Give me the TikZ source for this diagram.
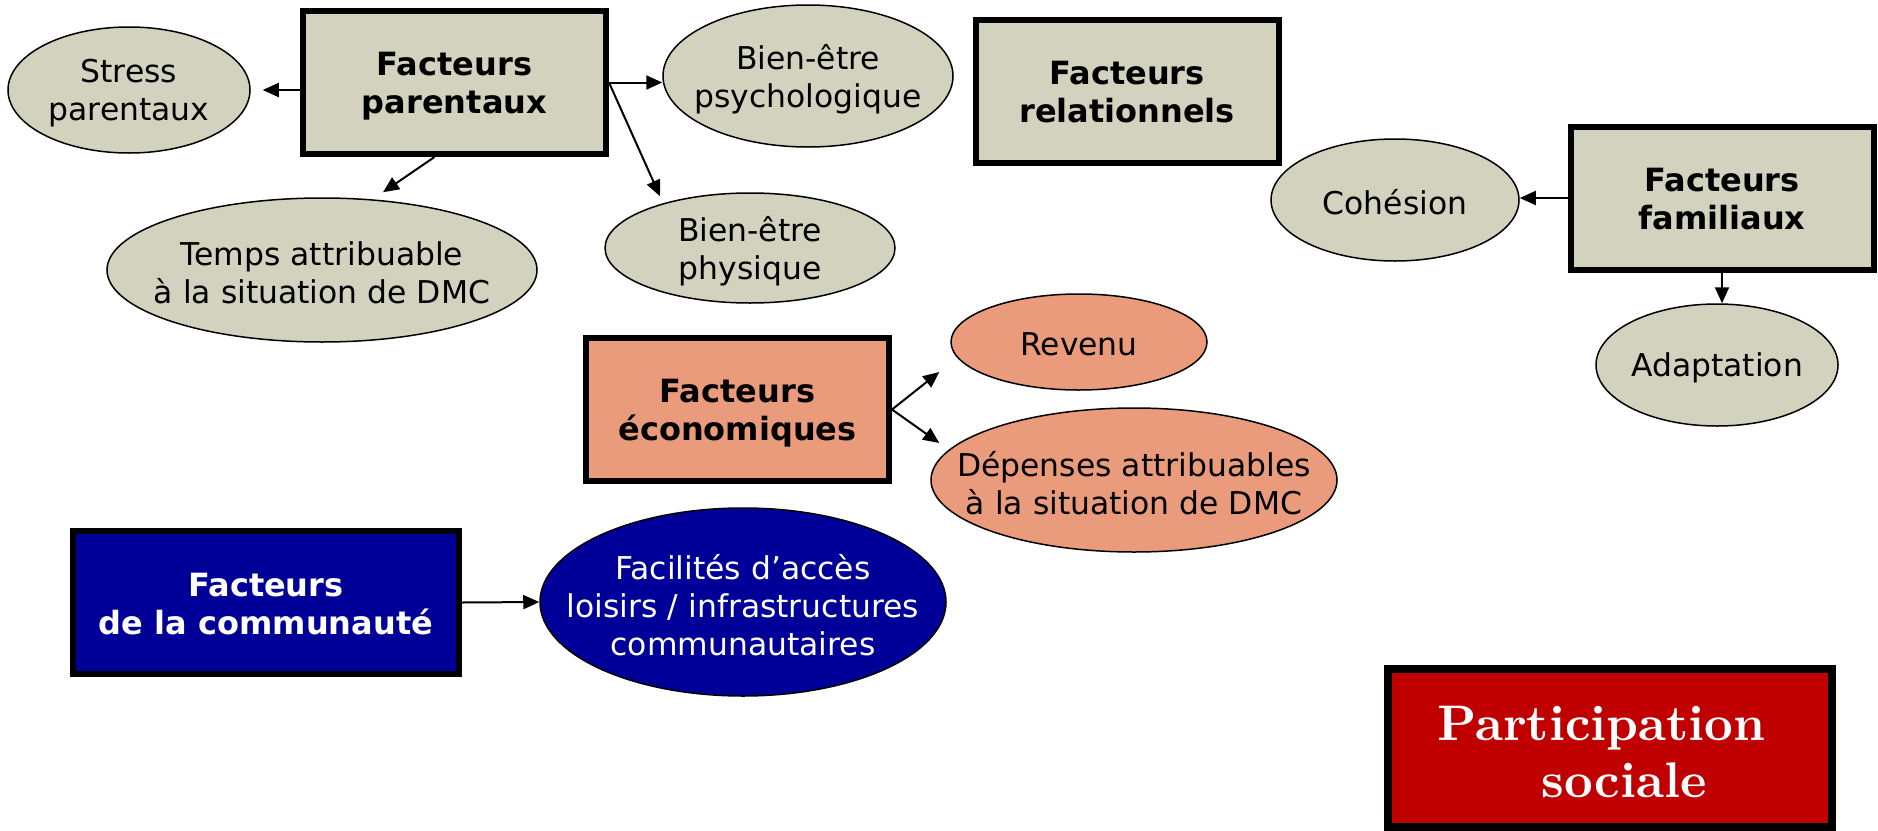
\documentclass[tikz,border=0pt]{standalone}
\usepackage{fontspec}
\newfontfamily\dv{DejaVu Sans}
\newfontfamily\lmbx{lmroman10-bold.otf}
\usetikzlibrary{shapes.geometric,arrows.meta}
\definecolor{beige}{RGB}{210,210,190}
\definecolor{salmon}{RGB}{233,155,123}
\definecolor{navy}{RGB}{0,0,153}
\definecolor{deepred}{RGB}{192,0,0}
\begin{document}
\begin{tikzpicture}[x=0.5pt,y=-0.5pt,
 box/.style={draw=black, line width=3pt, rectangle, inner sep=0pt, minimum width=151.5pt, minimum height=71.5pt},
 btxt/.style={align=center, font=\dv\fontsize{16}{19}\selectfont\bfseries, inner sep=0pt},
 ell/.style={draw=black, line width=0.75pt, ellipse, inner sep=0pt},
 txt/.style={align=center, font=\dv\fontsize{15.7}{19}\selectfont, inner sep=0pt, yshift=-1.5pt},
 arr/.style={line width=1pt, -{Triangle[length=8pt,width=7pt]}},
]
\useasboundingbox (0,0) rectangle (1878,830);
% boxes
\node[box, fill=beige] (par) at (454.5,82.5) {};
\node[btxt, yshift=-2pt] (parT) at (par) {Facteurs\\parentaux};
\node[box, fill=beige] (rel) at (1127,91) {};
\node[btxt, yshift=-0.5pt] (relT) at (rel) {Facteurs\\relationnels};
\node[box, fill=beige] (fam) at (1722,198) {};
\node[btxt, yshift=-0.5pt] (famT) at (fam) {Facteurs\\familiaux};
\node[box, fill=salmon] (eco) at (737.5,409.5) {};
\node[btxt, yshift=-2pt] (ecoT) at (eco) {Facteurs\\économiques};
\node[box, fill=navy, minimum width=193pt] (com) at (266,602.5) {};
\node[btxt, text=white, yshift=-1pt] (comT) at (com) {Facteurs\\de la communauté};
\node[box, fill=deepred, line width=4pt, minimum width=222pt, minimum height=79pt] (part) at (1610,748) {};
\node[align=center, inner sep=0pt, text=white, font=\lmbx\fontsize{25}{28.5}\selectfont, xshift=7pt, yshift=-2pt] (partT) at (part) {Participation\hspace*{0.9em}\\sociale};
% ellipses
\node[ell, fill=beige, minimum width=121pt, minimum height=63pt] (stress) at (129,90) {};
\node[txt] (stressT) at (stress) {Stress\\parentaux};
\node[ell, fill=beige, minimum width=145pt, minimum height=71pt] (psy) at (808,76) {};
\node[txt] (psyT) at (psy) {Bien-être\\psychologique};
\node[ell, fill=beige, minimum width=215pt, minimum height=72pt] (temps) at (322,270) {};
\node[txt] (tempsT) at (temps) {Temps attribuable\\à la situation de DMC};
\node[ell, fill=beige, minimum width=145pt, minimum height=55pt] (phys) at (750,248) {};
\node[txt] (physT) at (phys) {Bien-être\\physique};
\node[ell, fill=beige, minimum width=124pt, minimum height=61pt] (coh) at (1395,200) {};
\node[txt, yshift=0.5pt] (cohT) at (coh) {Cohésion};
\node[ell, fill=beige, minimum width=121pt, minimum height=61pt] (adapt) at (1717,365) {};
\node[txt] (adaptT) at (adapt) {Adaptation};
\node[ell, fill=salmon, minimum width=128pt, minimum height=48pt] (rev) at (1079,342) {};
\node[txt, yshift=0.5pt] (revT) at (rev) {Revenu};
\node[ell, fill=salmon, minimum width=203pt, minimum height=72pt] (dep) at (1134,480) {};
\node[txt] (depT) at (dep) {Dépenses attribuables\\à la situation de DMC};
\node[ell, fill=navy, minimum width=203pt, minimum height=94pt] (fac) at (743,602) {};
\node[txt, text=white] (facT) at (fac) {Facilités d’accès\\loisirs / infrastructures\\communautaires};
% connectors
\draw[arr] (par.west |- stress.east) -- ([xshift=6pt]stress.east);
\draw[arr] (par.east) -- (par.east -| psy.west);
\draw[arr] ([xshift=-10pt]par.south) -- ([xshift=30.5pt,yshift=2.5pt]temps.north);
\draw[arr] (par.east) -- ([xshift=-45pt,yshift=-2pt]phys.north);
\draw[arr] (eco.east) -- ([xshift=-5.5pt,yshift=-15pt]rev.west);
\draw[arr] (eco.east) -- ([xshift=4.5pt,yshift=18.5pt]dep.west);
\draw[arr] (fam.west) -- (fam.west -| coh.east);
\draw[arr] (fam.south) -- (fam.south |- adapt.north);
\draw[arr] (com.east) -- (fac.west);
\end{tikzpicture}
\end{document}
